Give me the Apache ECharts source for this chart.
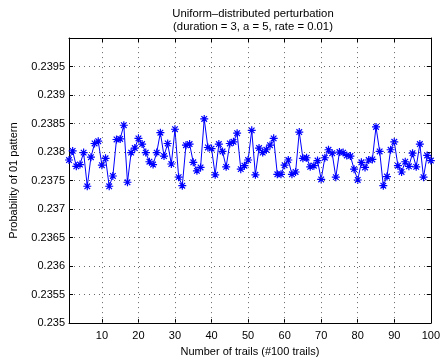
<!DOCTYPE html>
<html>
<head>
<meta charset="utf-8">
<script src="https://cdn.jsdelivr.net/npm/echarts@6/dist/echarts.min.js"></script>
<style>html,body{margin:0;padding:0;background:#fff}#c{width:443px;height:362px}</style>
</head>
<body>
<div id="c"></div>
<script>
var titleLines = ['Uniform\u2013distributed perturbation', '(duration = 3, a = 5, rate = 0.01)'];
var xName = 'Number of trails (#100 trails)';
var yName = 'Probability of 01 pattern';
var xTicks = [10, 20, 30, 40, 50, 60, 70, 80, 90, 100];
var trials = [];
for (var i = 1; i <= 100; i++) trials.push(i);
var probability = [
  0.23786, 0.23802, 0.23775, 0.23778, 0.23799, 0.23740, 0.23791, 0.23815, 0.23819, 0.23777,
  0.23789, 0.23740, 0.23758, 0.23822, 0.23823, 0.23847, 0.23747, 0.23799, 0.23807, 0.23824,
  0.23814, 0.23799, 0.23783, 0.23778, 0.23799, 0.23834, 0.23793, 0.23815, 0.23779, 0.23840,
  0.23756, 0.23741, 0.23812, 0.23814, 0.23782, 0.23767, 0.23773, 0.23858, 0.23808, 0.23806,
  0.23760, 0.23814, 0.23801, 0.23774, 0.23815, 0.23818, 0.23833, 0.23770, 0.23776, 0.23786,
  0.23838, 0.23760, 0.23807, 0.23799, 0.23804, 0.23812, 0.23824, 0.23761, 0.23761, 0.23777,
  0.23786, 0.23761, 0.23765, 0.23835, 0.23789, 0.23790, 0.23774, 0.23776, 0.23785, 0.23752,
  0.23790, 0.23804, 0.23798, 0.23756, 0.23800, 0.23799, 0.23794, 0.23793, 0.23770, 0.23751,
  0.23782, 0.23773, 0.23786, 0.23787, 0.23844, 0.23801, 0.23741, 0.23757, 0.23804, 0.23818,
  0.23776, 0.23765, 0.23783, 0.23775, 0.23798, 0.23774, 0.23814, 0.23756, 0.23794, 0.23785
];

var font = 'Liberation Sans, Arial, Helvetica, sans-serif';
var data = trials.map(function (t, k) { return [t, probability[k]]; });
var grid = { left: 62, right: 8, top: 38, bottom: 37 };
var gridLine = { show: true, lineStyle: { color: '#666', width: 1, type: [1, 4] } };
var axisLineStyle = { show: true, lineStyle: { color: '#000', width: 1 } };

var chart = echarts.init(document.getElementById('c'), null, { renderer: 'canvas' });
chart.setOption({
  backgroundColor: '#fff',
  animation: false,
  title: {
    text: titleLines.join('\n'),
    left: 248, textAlign: 'center', top: 2,
    textStyle: { fontFamily: font, fontSize: 11.3, fontWeight: 'normal', color: '#000', lineHeight: 13 }
  },
  grid: grid,
  xAxis: [{
    type: 'value', min: 1, max: 100,
    axisLabel: { customValues: xTicks, fontFamily: font, fontSize: 11, color: '#000', margin: 7 },
    axisTick: { customValues: xTicks, inside: true, length: 4, lineStyle: { color: '#000' } },
    axisLine: axisLineStyle,
    splitLine: { show: false },
    name: xName, nameLocation: 'middle', nameGap: 19,
    nameTextStyle: { fontFamily: font, fontSize: 11, color: '#000' }
  }, {
    type: 'value', min: 1, max: 100, position: 'top',
    axisLabel: { show: false },
    axisTick: { customValues: xTicks, inside: true, length: 4, lineStyle: { color: '#000' } },
    axisLine: axisLineStyle,
    splitLine: { show: false }
  }],
  yAxis: [{
    type: 'value', min: 0.235, max: 0.24, interval: 0.0005,
    axisLabel: { fontFamily: font, fontSize: 11, color: '#000', margin: 4, showMaxLabel: false,
      formatter: function (v) { return String(parseFloat(v.toFixed(4))); } },
    axisTick: { inside: true, length: 4, lineStyle: { color: '#000' } },
    axisLine: axisLineStyle,
    splitLine: gridLine,
    name: yName, nameLocation: 'middle', nameGap: 50,
    nameTextStyle: { fontFamily: font, fontSize: 11, color: '#000' }
  }, {
    type: 'value', min: 0.235, max: 0.24, interval: 0.0005, position: 'right',
    axisLabel: { show: false },
    axisTick: { inside: true, length: 4, lineStyle: { color: '#000' } },
    axisLine: axisLineStyle,
    splitLine: { show: false }
  }],
  series: [{
    type: 'line',
    data: data,
    xAxisIndex: 0, yAxisIndex: 0,
    lineStyle: { color: '#0000ff', width: 1 },
    symbol: 'path://M0,5L10,5M5,0L5,10M1.5,1.5L8.5,8.5M1.5,8.5L8.5,1.5',
    symbolSize: 8,
    itemStyle: { color: 'none', borderColor: '#0000ff', borderWidth: 1.2 },
    markLine: {
      silent: true, symbol: 'none', label: { show: false },
      lineStyle: { color: '#666', width: 1, type: [1, 4] },
      data: xTicks.slice(0, xTicks.length - 1).map(function (t) { return { xAxis: t }; })
    },
    z: 3
  }]
});
</script>
</body>
</html>
